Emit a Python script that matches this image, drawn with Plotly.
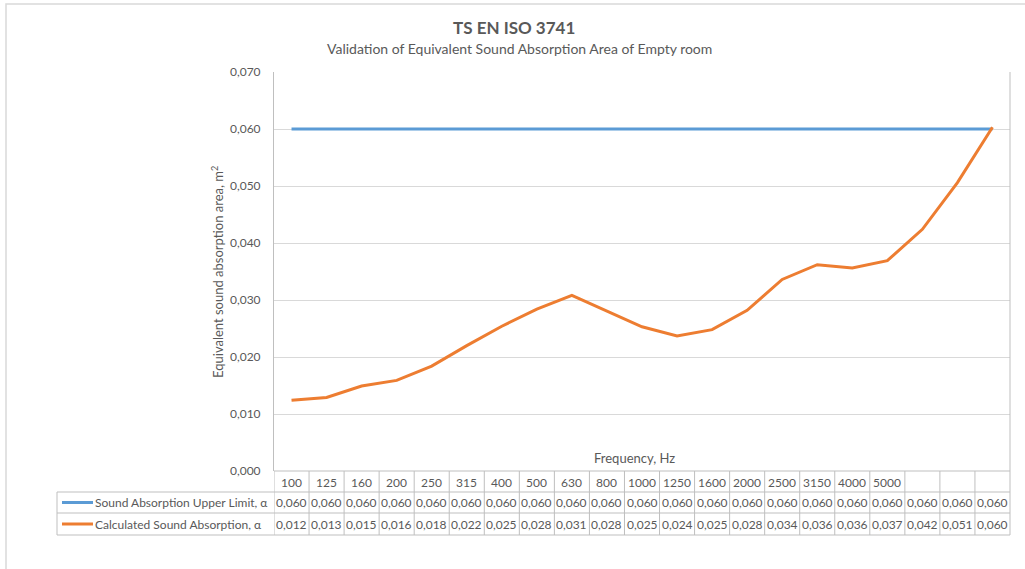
import plotly.graph_objects as go

# ---- data ----
categories = ["100", "125", "160", "200", "250", "315", "400", "500", "630", "800",
              "1000", "1250", "1600", "2000", "2500", "3150", "4000", "5000", "", "", ""]
upper_limit = [0.060] * 21
calculated = [0.0124, 0.0129, 0.0149, 0.0159, 0.0184, 0.0220, 0.0254, 0.0284, 0.0308, 0.0280,
              0.0253, 0.0237, 0.0248, 0.0282, 0.0336, 0.0362, 0.0356, 0.0369, 0.0424, 0.0506, 0.0603]
series_names = ["Sound Absorption Upper Limit, α", "Calculated Sound Absorption, α"]
series_values = [upper_limit, calculated]
series_colors = ["#5B9BD5", "#ED7D31"]
title = "TS EN ISO 3741"
subtitle = "Validation of Equivalent Sound Absorption Area of Empty room"
y_title = "Equivalent sound absorption area, m<sup>2</sup>"
x_title = "Frequency, Hz"

# ---- layout geometry (pixels) ----
W, H = 1025, 569
L, R, T, B = 274, 1010, 72, 471
FONT = "Lato, 'Open Sans', sans-serif"
TXT = "#595959"
GRID = "#d9d9d9"
LINE = "#bfbfbf"


def px(X):
    return (X - L) / (R - L)


def py(Y):
    return (B - Y) / (B - T)


def ann(x, y, text, xref="paper", xanchor="center", size=12, **kw):
    return dict(x=x, xref=xref, y=y, yref="paper", text=text, showarrow=False,
                xanchor=xanchor, yanchor="middle",
                font=dict(family=FONT, size=size, color=TXT), **kw)


xs = list(range(len(categories)))
fig = go.Figure()
for name, vals, col in zip(series_names, series_values, series_colors):
    fig.add_trace(go.Scatter(x=xs, y=vals, mode="lines", name=name,
                             line=dict(color=col, width=3), showlegend=False))

shapes = []
annotations = []

# outer chart frame
shapes.append(dict(type="rect", xref="paper", yref="paper",
                   x0=px(6), x1=px(W + 10), y0=py(4), y1=py(H + 10),
                   line=dict(color=GRID, width=1.5), layer="below"))
# right border of plot/table
shapes.append(dict(type="line", xref="paper", yref="paper",
                   x0=1, x1=1, y0=py(T), y1=py(535), line=dict(color=LINE, width=1)))
# table horizontal lines
rows_y = [471, 492, 513, 535]
shapes.append(dict(type="line", xref="paper", yref="paper",
                   x0=0, x1=1, y0=py(rows_y[0]), y1=py(rows_y[0]), line=dict(color=LINE, width=1)))
for Y in rows_y[1:]:
    shapes.append(dict(type="line", xref="paper", yref="paper",
                       x0=px(57), x1=1, y0=py(Y), y1=py(Y), line=dict(color=LINE, width=1)))
# left border of legend column
shapes.append(dict(type="line", xref="paper", yref="paper",
                   x0=px(57), x1=px(57), y0=py(492), y1=py(535), line=dict(color=LINE, width=1)))
# column separators
for i in range(len(categories)):
    xb = i - 0.5
    shapes.append(dict(type="line", xref="x", yref="paper",
                       x0=xb, x1=xb, y0=py(471), y1=py(535), line=dict(color=LINE, width=1)))

# header row labels
for i, lab in enumerate(categories):
    if lab:
        annotations.append(ann(i, py(482), lab, xref="x"))
# value rows
row_centers = [502.5, 524]
for r, (name, vals, col) in enumerate(zip(series_names, series_values, series_colors)):
    yc = py(row_centers[r])
    for i, v in enumerate(vals):
        annotations.append(ann(i, yc, f"{v:.3f}".replace(".", ","), xref="x"))
    shapes.append(dict(type="line", xref="paper", yref="paper",
                       x0=px(62), x1=px(93), y0=yc, y1=yc, line=dict(color=col, width=3)))
    annotations.append(ann(px(93), yc, name, xanchor="left"))

# titles
annotations.append(ann(px(514), py(27), f"<b>{title}</b>", size=17))
annotations.append(ann(px(519), py(48), subtitle, size=14))
annotations.append(ann(px(634), py(458), x_title, size=13))
annotations.append(ann(px(217), py(272), y_title, size=13, textangle=-90))

fig.update_layout(
    width=W, height=H,
    margin=dict(l=L, r=W - R, t=T, b=H - B, pad=0),
    paper_bgcolor="white", plot_bgcolor="white",
    separators=", ",
    shapes=shapes, annotations=annotations,
    xaxis=dict(range=[-0.5, len(categories) - 0.5], showticklabels=False, showgrid=False,
               zeroline=False, showline=False, ticks=""),
    yaxis=dict(range=[0, 0.07], dtick=0.01, tickformat=".3f", showgrid=True, gridcolor=GRID,
               gridwidth=1, zeroline=False, showline=True, linecolor=LINE, linewidth=1,
               ticks="", ticklabelstandoff=10,
               tickfont=dict(family=FONT, size=12, color=TXT)),
)

fig.write_html("out.html", config={"displayModeBar": False},
               post_script="document.body.style.margin='0';")
